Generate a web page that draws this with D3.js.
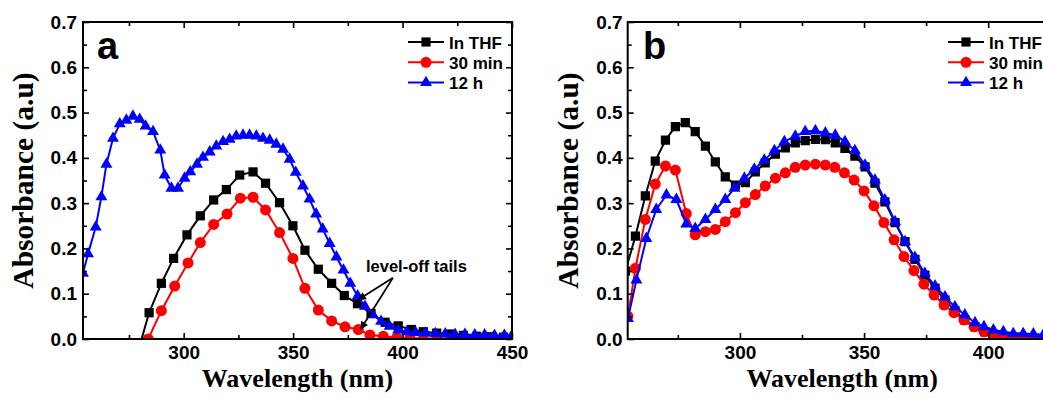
<!DOCTYPE html>
<html>
<head>
<meta charset="utf-8">
<script src="https://cdn.jsdelivr.net/npm/d3@7"></script>
<style>
  body { margin: 0; background: #fff; }
  svg { display: block; }
</style>
</head>
<body>
<script>
// ---- Panel a: absorbance spectra ----
const wlA_thf = [278.4, 284.2, 289.8, 295.4, 301.5, 307.6, 313.7, 319.5, 325.6, 331.7, 337.4, 343.8, 349.9, 355.4, 361.5, 367.6, 373.4, 379.4, 385.6, 392.0, 398.0, 404.0, 409.5, 415.6, 421.7, 427.8, 433.9, 440.0, 446.1];
const absA_thf = [-0.04, 0.058, 0.123, 0.178, 0.230, 0.272, 0.307, 0.330, 0.362, 0.369, 0.344, 0.301, 0.250, 0.196, 0.154, 0.123, 0.096, 0.078, 0.056, 0.037, 0.029, 0.021, 0.016, 0.013, 0.011, 0.008, 0.006, 0.005, 0.004];

const wlA_30min = [283.8, 289.8, 295.9, 302.0, 307.6, 313.7, 319.8, 325.9, 331.7, 337.4, 343.8, 349.9, 355.4, 361.5, 367.6, 373.7, 379.8, 385.1, 391.2, 397.3, 403.4, 409.5, 415.6, 421.7, 427.8, 433.9, 440.0, 446.1];
const absA_30min = [0.0, 0.0625, 0.117, 0.168, 0.213, 0.253, 0.276, 0.311, 0.313, 0.285, 0.235, 0.178, 0.112, 0.064, 0.040, 0.027, 0.021, 0.009, 0.006, 0.003, 0.002, 0.001, 0.001, 0.0, 0.0, 0.0, 0.0, 0.0];

const wlA_12h = [254.0, 256.3, 259.8, 262.4, 264.7, 267.7, 270.8, 273.8, 276.8, 279.9, 282.6, 286.0, 289.3, 291.3, 294.4, 297.4, 300.4, 303.0, 306.1, 308.8, 311.9, 314.9, 318.0, 321.0, 324.0, 327.1, 330.1, 333.2, 336.2, 339.3, 342.3, 345.4, 348.4, 351.2, 354.5, 357.5, 360.5, 363.5, 366.7, 369.8, 373.0, 376.1, 379.5, 382.8, 386.4, 390.2, 394.1, 398.0, 402.0, 406.0, 410.5, 415.0, 419.5, 424.0, 428.5, 433.0, 437.5, 442.0, 446.5, 450.0];
const absA_12h = [0.145, 0.188, 0.247, 0.314, 0.386, 0.443, 0.475, 0.483, 0.492, 0.485, 0.470, 0.458, 0.417, 0.362, 0.333, 0.333, 0.355, 0.369, 0.386, 0.401, 0.413, 0.426, 0.436, 0.441, 0.448, 0.450, 0.450, 0.448, 0.443, 0.439, 0.430, 0.419, 0.397, 0.368, 0.338, 0.309, 0.276, 0.243, 0.211, 0.181, 0.152, 0.123, 0.095, 0.072, 0.054, 0.039, 0.028, 0.020, 0.016, 0.014, 0.013, 0.012, 0.011, 0.010, 0.010, 0.009, 0.009, 0.008, 0.008, 0.008];

// ---- Panel b: absorbance spectra ----
const wlB_thf = [253.9, 257.9, 261.9, 265.9, 270.0, 274.0, 278.0, 282.0, 286.1, 290.1, 294.1, 298.2, 302.2, 306.2, 310.2, 314.3, 318.3, 322.3, 326.3, 330.4, 334.4, 338.4, 342.3, 346.3, 350.4, 354.4, 358.4, 362.5, 366.5, 370.5, 374.5, 378.6, 382.6, 386.6, 390.6, 394.7, 398.7, 402.7, 406.8, 410.8, 414.8, 418.8, 422.9, 426.9];
const absB_thf = [0.15, 0.227, 0.316, 0.393, 0.439, 0.469, 0.478, 0.458, 0.426, 0.391, 0.358, 0.340, 0.345, 0.369, 0.389, 0.408, 0.422, 0.433, 0.438, 0.441, 0.440, 0.433, 0.421, 0.404, 0.380, 0.344, 0.303, 0.257, 0.215, 0.176, 0.141, 0.112, 0.086, 0.0625, 0.042, 0.027, 0.016, 0.009, 0.006, 0.004, 0.003, 0.002, 0.002, 0.001];

const wlB_30min = [254.9, 257.9, 261.9, 265.9, 270.0, 274.0, 278.4, 282.0, 286.1, 290.1, 294.1, 298.2, 302.2, 306.2, 310.2, 314.3, 318.3, 322.3, 326.3, 330.4, 334.4, 338.2, 342.1, 346.0, 350.0, 354.0, 358.0, 362.1, 366.1, 370.1, 374.1, 378.2, 382.2, 386.2, 390.2, 394.3, 398.3, 402.3, 406.3, 410.4, 414.4, 418.4, 422.4, 426.4];
const absB_30min = [0.05, 0.156, 0.264, 0.342, 0.382, 0.373, 0.277, 0.230, 0.237, 0.242, 0.259, 0.279, 0.301, 0.319, 0.338, 0.355, 0.367, 0.379, 0.384, 0.386, 0.384, 0.379, 0.367, 0.351, 0.327, 0.294, 0.257, 0.219, 0.182, 0.151, 0.121, 0.097, 0.075, 0.058, 0.042, 0.027, 0.016, 0.009, 0.006, 0.003, 0.003, 0.002, 0.002, 0.001];

const wlB_12h = [254.9, 258.3, 262.3, 266.3, 270.4, 274.4, 278.4, 282.0, 286.1, 290.1, 294.1, 297.8, 301.8, 305.8, 309.8, 313.9, 317.9, 322.3, 326.3, 330.4, 334.4, 338.4, 342.3, 346.3, 350.4, 354.4, 358.4, 362.5, 366.5, 370.5, 374.5, 378.6, 382.6, 386.6, 390.6, 394.7, 398.3, 402.1, 406.1, 410.1, 414.1, 418.2, 422.2, 426.2];
const absB_12h = [0.045, 0.130, 0.222, 0.286, 0.318, 0.308, 0.254, 0.244, 0.264, 0.286, 0.308, 0.333, 0.355, 0.375, 0.395, 0.416, 0.436, 0.448, 0.458, 0.460, 0.455, 0.450, 0.436, 0.416, 0.384, 0.351, 0.307, 0.259, 0.215, 0.180, 0.145, 0.117, 0.093, 0.071, 0.053, 0.036, 0.027, 0.020, 0.016, 0.012, 0.012, 0.011, 0.009, 0.008];

// ---- Labels and ticks ----
const seriesNames = ["In THF", "30 min", "12 h"];
const panelLetters = ["a", "b"];
const yMajorTicks = [0.0, 0.1, 0.2, 0.3, 0.4, 0.5, 0.6, 0.7];
const yMinorTicks = [0.05, 0.15, 0.25, 0.35, 0.45, 0.55, 0.65];
const xMajorTicks = [250, 300, 350, 400, 450];
const xMinorTicks = [275, 325, 375, 425];
const xTitle = "Wavelength (nm)";
const yTitle = "Absorbance (a.u)";

// annotation in panel a (data units)
const noteText = "level-off tails";
const noteAt = [383.3, 0.149];
const noteArrowFrom = [395.6, 0.135];
const noteArrowTo = [[379.9, 0.087], [380.9, 0.022]];

// ---- Drawing ----
const W = 1043, H = 398;
const colors = ["#000000", "#ff0000", "#0000ff"];
const symbols = [d3.symbolSquare, d3.symbolCircle, d3.symbolTriangle];
const symbolSizes = [85, 95, 62];
const tickFont = "'Liberation Sans', Arial, Helvetica, sans-serif";
const titleFont = "'Liberation Serif', 'Times New Roman', Times, serif";

const svg = d3.select("body").append("svg")
  .attr("width", W).attr("height", H)
  .attr("viewBox", `0 0 ${W} ${H}`);

const defs = svg.append("defs");
defs.append("marker")
  .attr("id", "arrowHead")
  .attr("viewBox", "0 0 10 10")
  .attr("refX", 9).attr("refY", 5)
  .attr("markerWidth", 10).attr("markerHeight", 8)
  .attr("markerUnits", "userSpaceOnUse")
  .attr("orient", "auto")
  .append("path").attr("d", "M0,0 L10,5 L0,10 Z").attr("fill", "#000");

const panels = [
  { id: "a", letter: panelLetters[0], xDomain: [254, 450], left: 83, right: 512,
    series: [[wlA_thf, absA_thf], [wlA_30min, absA_30min], [wlA_12h, absA_12h]],
    legendX: 408, letterX: 97, yTitleX: 33, labelPad: 6, note: true },
  { id: "b", letter: panelLetters[1], xDomain: [254.8, 427.6], left: 627.7, right: 1056.7,
    series: [[wlB_thf, absB_thf], [wlB_30min, absB_30min], [wlB_12h, absB_12h]],
    legendX: 948, letterX: 643, yTitleX: 578, labelPad: 5, note: false }
];
const plotTop = 22, plotBottom = 339;

panels.forEach(p => {
  const x = d3.scaleLinear().domain(p.xDomain).range([p.left, p.right]);
  const y = d3.scaleLinear().domain([0, 0.7]).range([plotBottom, plotTop]);
  const inX = v => v >= p.xDomain[0] - 1e-9 && v <= p.xDomain[1] + 1e-9;
  const g = svg.append("g");

  // clip to plot area
  defs.append("clipPath").attr("id", "clip-" + p.id)
    .append("rect").attr("x", p.left).attr("y", plotTop)
    .attr("width", p.right - p.left).attr("height", plotBottom - plotTop);

  const data = g.append("g").attr("clip-path", `url(#clip-${p.id})`);
  const line = d3.line().x(d => x(d[0])).y(d => y(d[1]));
  p.series.forEach((s, i) => {
    const pts = s[0].map((w, k) => [w, s[1][k]]);
    data.append("path").datum(pts)
      .attr("d", line).attr("fill", "none")
      .attr("stroke", colors[i]).attr("stroke-width", 2);
    data.append("g").selectAll("path").data(pts).join("path")
      .attr("transform", d => `translate(${x(d[0])},${y(d[1])})`)
      .attr("d", d3.symbol().type(symbols[i]).size(symbolSizes[i]))
      .attr("fill", colors[i]);
  });

  // axes: inward ticks on all four sides
  const styleAxis = sel => {
    sel.select(".domain").remove();
    sel.selectAll("line").attr("stroke", "#000").attr("stroke-width", 1.6);
    sel.selectAll("text").attr("font-family", tickFont).attr("font-weight", "bold")
      .attr("font-size", 19).attr("fill", "#000");
  };
  const xMaj = xMajorTicks.filter(inX), xMin = xMinorTicks.filter(inX);

  g.append("g").attr("transform", `translate(0,${plotBottom})`)
    .call(d3.axisBottom(x).tickValues(xMaj).tickSize(-6).tickPadding(7).tickFormat(d3.format("d")))
    .call(styleAxis);
  g.append("g").attr("transform", `translate(0,${plotBottom})`)
    .call(d3.axisBottom(x).tickValues(xMin).tickSize(-4).tickFormat(""))
    .call(styleAxis);
  g.append("g").attr("transform", `translate(0,${plotTop})`)
    .call(d3.axisTop(x).tickValues(xMaj).tickSize(-6).tickFormat(""))
    .call(styleAxis);
  g.append("g").attr("transform", `translate(0,${plotTop})`)
    .call(d3.axisTop(x).tickValues(xMin).tickSize(-4).tickFormat(""))
    .call(styleAxis);

  g.append("g").attr("transform", `translate(${p.left},0)`)
    .call(d3.axisLeft(y).tickValues(yMajorTicks).tickSize(-6).tickPadding(p.labelPad).tickFormat(d3.format(".1f")))
    .call(styleAxis);
  g.append("g").attr("transform", `translate(${p.left},0)`)
    .call(d3.axisLeft(y).tickValues(yMinorTicks).tickSize(-4).tickFormat(""))
    .call(styleAxis);
  g.append("g").attr("transform", `translate(${p.right},0)`)
    .call(d3.axisRight(y).tickValues(yMajorTicks).tickSize(-6).tickFormat(""))
    .call(styleAxis);
  g.append("g").attr("transform", `translate(${p.right},0)`)
    .call(d3.axisRight(y).tickValues(yMinorTicks).tickSize(-4).tickFormat(""))
    .call(styleAxis);

  // frame
  g.append("rect").attr("x", p.left).attr("y", plotTop)
    .attr("width", p.right - p.left).attr("height", plotBottom - plotTop)
    .attr("fill", "none").attr("stroke", "#000").attr("stroke-width", 2);

  // axis titles
  g.append("text")
    .attr("x", (p.left + p.right) / 2).attr("y", 387)
    .attr("text-anchor", "middle")
    .attr("font-family", titleFont).attr("font-weight", "bold").attr("font-size", 26)
    .text(xTitle);
  g.append("text")
    .attr("transform", `translate(${p.yTitleX},${(plotTop + plotBottom) / 2}) rotate(-90)`)
    .attr("text-anchor", "middle")
    .attr("font-family", titleFont).attr("font-weight", "bold").attr("font-size", 29.5)
    .text(yTitle);

  // panel letter
  g.append("text").attr("x", p.letterX).attr("y", 59)
    .attr("font-family", tickFont).attr("font-weight", "bold").attr("font-size", 38)
    .text(p.letter);

  // legend
  const lg = g.append("g").attr("transform", `translate(${p.legendX},0)`);
  seriesNames.forEach((name, i) => {
    const cy = 42 + i * 20.3;
    lg.append("line").attr("x1", 0).attr("x2", 36).attr("y1", cy).attr("y2", cy)
      .attr("stroke", colors[i]).attr("stroke-width", 2);
    lg.append("path").attr("transform", `translate(18,${cy})`)
      .attr("d", d3.symbol().type(symbols[i]).size(symbolSizes[i]))
      .attr("fill", colors[i]);
    lg.append("text").attr("x", 41).attr("y", cy + 6.5)
      .attr("font-family", tickFont).attr("font-weight", "bold").attr("font-size", 17)
      .text(name);
  });

  // annotation arrows
  if (p.note) {
    g.append("text").attr("x", x(noteAt[0])).attr("y", y(noteAt[1]))
      .attr("font-family", tickFont).attr("font-weight", "bold").attr("font-size", 16.5)
      .text(noteText);
    noteArrowTo.forEach(t => {
      g.append("line")
        .attr("x1", x(noteArrowFrom[0])).attr("y1", y(noteArrowFrom[1]))
        .attr("x2", x(t[0])).attr("y2", y(t[1]))
        .attr("stroke", "#000").attr("stroke-width", 1.8)
        .attr("marker-end", "url(#arrowHead)");
    });
  }
});
</script>
</body>
</html>
